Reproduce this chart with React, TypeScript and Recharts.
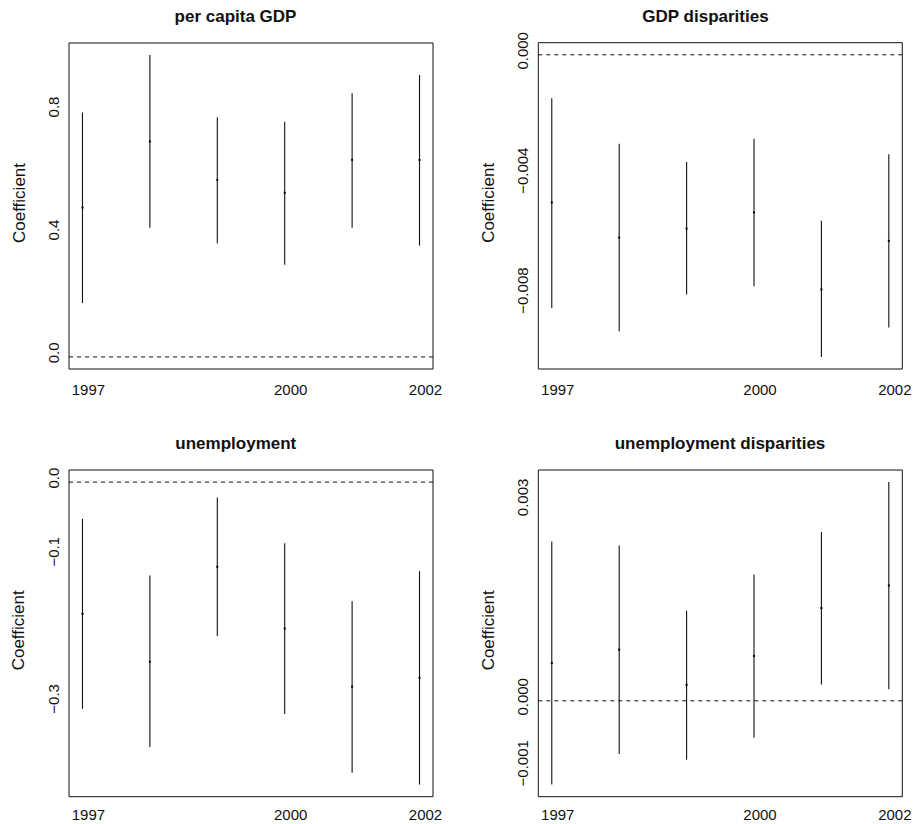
import React from 'react';
import {
  ComposedChart,
  Scatter,
  ErrorBar,
  XAxis,
  YAxis,
  ReferenceLine,
  ReferenceArea,
} from 'recharts';

// ---------- data ----------
const years = [1997, 1998, 1999, 2000, 2001, 2002];
const xTicks = [1997, 2000, 2002];
const xTickLabels = ['1997', '2000', '2002'];

const gdpCoef = [0.486, 0.701, 0.576, 0.534, 0.641, 0.641];
const gdpLower = [0.175, 0.42, 0.37, 0.3, 0.42, 0.362];
const gdpUpper = [0.795, 0.982, 0.78, 0.765, 0.858, 0.917];
const gdpTicks = [0, 0.4, 0.8];
const gdpTickLabels = ['0.0', '0.4', '0.8'];

const gdpDispCoef = [-0.00493, -0.0061, -0.0058, -0.00526, -0.00783, -0.00621];
const gdpDispLower = [-0.00845, -0.00922, -0.008, -0.00772, -0.01008, -0.0091];
const gdpDispUpper = [-0.00145, -0.00297, -0.00358, -0.0028, -0.00554, -0.00332];
const gdpDispTicks = [-0.008, -0.004, 0];
const gdpDispTickLabels = ['\u22120.008', '\u22120.004', '0.000'];

const unempCoef = [-0.179, -0.244, -0.115, -0.199, -0.278, -0.266];
const unempLower = [-0.308, -0.36, -0.209, -0.315, -0.395, -0.411];
const unempUpper = [-0.05, -0.127, -0.021, -0.083, -0.162, -0.121];
const unempTicks = [-0.3, -0.1, 0];
const unempTickLabels = ['\u22120.3', '\u22120.1', '0.0'];

const unempDispCoef = [0.00057, 0.00077, 0.00024, 0.000675, 0.001395, 0.001735];
const unempDispLower = [-0.00126, -0.0008, -0.000885, -0.000555, 0.000245, 0.000175];
const unempDispUpper = [0.002395, 0.002335, 0.001355, 0.0019, 0.00254, 0.00329];
const unempDispTicks = [-0.001, 0, 0.003];
const unempDispTickLabels = ['\u22120.001', '0.000', '0.003'];

// ---------- helpers ----------
const FONT = '"Liberation Sans", Arial, Helvetica, sans-serif';

function buildRows(coef: number[], lower: number[], upper: number[]) {
  return years.map((y, i) => ({
    year: y,
    coef: coef[i],
    err: [coef[i] - lower[i], upper[i] - coef[i]],
  }));
}

function rDomain(lower: number[], upper: number[]): [number, number] {
  const lo = Math.min(0, ...lower);
  const hi = Math.max(0, ...upper);
  const pad = (hi - lo) * 0.04;
  return [lo - pad, hi + pad];
}

const xDomain: [number, number] = [
  years[0] - (years[5] - years[0]) * 0.04,
  years[5] + (years[5] - years[0]) * 0.04,
];

type Box = { left: number; top: number; right: number; bottom: number };
type Frame = { left: number; top: number; width: number; height: number };

const Y_AXIS_W = 40;
const X_AXIS_H = 20;

function Panel(props: {
  frame: Frame;
  box: Box;
  coef: number[];
  lower: number[];
  upper: number[];
  ticks: number[];
  tickLabels: string[];
  xLabelDrop: number;
}) {
  const { frame, box, coef, lower, upper, ticks, tickLabels, xLabelDrop } = props;
  const data = buildRows(coef, lower, upper);
  const domain = rDomain(lower, upper);
  const margin = {
    top: box.top - frame.top,
    left: box.left - frame.left - Y_AXIS_W,
    right: frame.left + frame.width - box.right,
    bottom: frame.top + frame.height - box.bottom - X_AXIS_H,
  };

  const yTick = (p: any) => {
    const v = p.payload.value;
    const idx = ticks.findIndex((t) => Math.abs(t - v) < 1e-9);
    const label = idx >= 0 ? tickLabels[idx] : String(v);
    const cx = box.left - frame.left - 10;
    const cy = p.y - 4;
    return (
      <text
        x={cx}
        y={cy}
        transform={`rotate(-90 ${cx} ${cy})`}
        textAnchor="middle"
        fontSize={15}
        fontFamily={FONT}
        fill="#111"
      >
        {label}
      </text>
    );
  };

  const xTick = (p: any) => {
    const v = p.payload.value;
    const idx = xTicks.findIndex((t) => t === v);
    const label = idx >= 0 ? xTickLabels[idx] : String(v);
    return (
      <text
        x={p.x + 6}
        y={box.bottom - frame.top + xLabelDrop}
        textAnchor="middle"
        fontSize={15}
        fontFamily={FONT}
        fill="#111"
      >
        {label}
      </text>
    );
  };

  return (
    <div style={{ position: 'absolute', left: frame.left, top: frame.top }}>
      <ComposedChart
        width={frame.width}
        height={frame.height}
        data={data}
        margin={margin}
        style={{ overflow: 'visible' }}
      >
        <XAxis
          dataKey="year"
          type="number"
          domain={xDomain}
          allowDataOverflow
          ticks={xTicks}
          interval={0}
          axisLine={false}
          tickLine={false}
          tickSize={0}
          tickMargin={0}
          height={X_AXIS_H}
          tick={xTick}
        />
        <YAxis
          type="number"
          domain={domain}
          allowDataOverflow
          ticks={ticks}
          interval={0}
          axisLine={false}
          tickLine={false}
          tickSize={0}
          tickMargin={0}
          width={Y_AXIS_W}
          tick={yTick}
        />
        <ReferenceLine y={0} stroke="#111" strokeWidth={1} strokeDasharray="4 4" />
        <ReferenceArea
          x1={xDomain[0]}
          x2={xDomain[1]}
          y1={domain[0]}
          y2={domain[1]}
          fill="none"
          fillOpacity={0}
          stroke="#111"
          strokeWidth={1}
          ifOverflow="visible"
        />
        <Scatter
          dataKey="coef"
          isAnimationActive={false}
          shape={(s: any) => <rect x={s.cx - 1} y={s.cy - 1} width={2} height={2} fill="#000" />}
        >
          <ErrorBar
            dataKey="err"
            direction="y"
            width={0}
            stroke="#111"
            strokeWidth={1.1}
            isAnimationActive={false}
          />
        </Scatter>
      </ComposedChart>
    </div>
  );
}

const boxes: Box[] = [
  { left: 69, top: 43, right: 433, bottom: 369 },
  { left: 538.3, top: 42.7, right: 902.3, bottom: 369 },
  { left: 69, top: 470, right: 433, bottom: 796.7 },
  { left: 538.3, top: 470, right: 902.3, bottom: 796.7 },
];

const frames: Frame[] = [
  { left: 0, top: 0, width: 457, height: 412 },
  { left: 458, top: 0, width: 457, height: 412 },
  { left: 0, top: 412, width: 457, height: 412 },
  { left: 458, top: 412, width: 457, height: 412 },
];

const titles = ['per capita GDP', 'GDP disparities', 'unemployment', 'unemployment disparities'];
const titlePos = [
  { x: 235.5, y: 21.7 },
  { x: 705.5, y: 21.7 },
  { x: 235.8, y: 449.3 },
  { x: 720, y: 449.3 },
];
const yLabel = 'Coefficient';

export default function App() {
  return (
    <div
      style={{
        position: 'absolute',
        left: 0,
        top: 0,
        width: 915,
        height: 824,
        background: '#fff',
        overflow: 'hidden',
      }}
    >
      <Panel frame={frames[0]} box={boxes[0]} coef={gdpCoef} lower={gdpLower} upper={gdpUpper} ticks={gdpTicks} tickLabels={gdpTickLabels} xLabelDrop={26} />
      <Panel frame={frames[1]} box={boxes[1]} coef={gdpDispCoef} lower={gdpDispLower} upper={gdpDispUpper} ticks={gdpDispTicks} tickLabels={gdpDispTickLabels} xLabelDrop={26} />
      <Panel frame={frames[2]} box={boxes[2]} coef={unempCoef} lower={unempLower} upper={unempUpper} ticks={unempTicks} tickLabels={unempTickLabels} xLabelDrop={23.3} />
      <Panel frame={frames[3]} box={boxes[3]} coef={unempDispCoef} lower={unempDispLower} upper={unempDispUpper} ticks={unempDispTicks} tickLabels={unempDispTickLabels} xLabelDrop={23.3} />
      <svg
        width={915}
        height={824}
        style={{ position: 'absolute', left: 0, top: 0, pointerEvents: 'none' }}
      >
        {titles.map((t, i) => (
          <text
            key={'t' + i}
            x={titlePos[i].x}
            y={titlePos[i].y}
            textAnchor="middle"
            fontSize={17}
            fontWeight="bold"
            fontFamily={FONT}
            fill="#111"
          >
            {t}
          </text>
        ))}
        {boxes.map((b, i) => {
          const cx = b.left - 44.5;
          const cy = (b.top + b.bottom) / 2 - 3;
          return (
            <text
              key={'y' + i}
              x={cx}
              y={cy}
              transform={`rotate(-90 ${cx} ${cy})`}
              textAnchor="middle"
              fontSize={17}
              fontFamily={FONT}
              fill="#111"
            >
              {yLabel}
            </text>
          );
        })}
      </svg>
    </div>
  );
}
